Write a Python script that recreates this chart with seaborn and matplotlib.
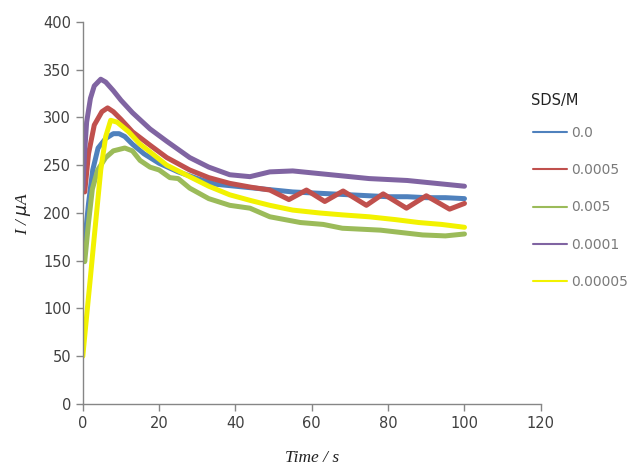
import pandas as pd
import matplotlib.pyplot as plt
import seaborn as sns

# --- data (time / s, current / uA) ---
t_blank = [0, 0.5, 1.5, 2.6, 4, 6, 8, 9.5, 11, 13, 16, 20, 25, 30, 35, 40, 45, 50,
           55, 60, 65, 70, 75, 80, 85, 90, 95, 100]
i_blank = [182, 170, 210, 245, 268, 278, 283, 283, 280, 272, 262, 252, 243, 236, 230,
           228, 226, 224, 222, 221, 220, 219, 218, 217, 217, 216, 216, 215]

t_5e4 = [0, 0.5, 1.5, 3, 5, 6.5, 8, 10, 13, 17.6, 22, 28, 33, 38.5, 44, 49, 54,
         58.6, 63.4, 68.2, 74.3, 78.7, 84.8, 90, 96.1, 100]
i_5e4 = [230, 222, 262, 292, 306, 310, 306, 298, 285, 271, 258, 245, 237, 231, 227,
         224, 214, 224, 212, 223, 208, 220, 205, 218, 204, 210]

t_5e3 = [0, 0.5, 1.5, 2.5, 3.9, 6, 8, 11, 13, 15, 17.6, 20, 22.8, 25, 28, 33, 38.5,
         43.8, 49, 57, 63, 68, 78, 89, 95, 100]
i_5e3 = [165, 149, 190, 225, 245, 258, 265, 268, 265, 255, 248, 245, 237, 236, 226,
         215, 208, 205, 196, 190, 188, 184, 182, 177, 176, 178]

t_1e4 = [0, 0.5, 1, 2, 3, 4.7, 6, 8, 10, 13, 17.6, 22, 28, 33, 38.5, 43.8, 49, 55,
         60, 65, 70, 75, 80, 85, 90, 95, 100]
i_1e4 = [225, 265, 295, 320, 333, 340, 337, 328, 318, 305, 288, 275, 258, 248, 240,
         238, 243, 244, 242, 240, 238, 236, 235, 234, 232, 230, 228]

t_5e5 = [0, 1, 2, 3, 4.7, 6, 7.3, 9, 12, 15, 17.6, 22, 28, 33, 38.5, 44, 49, 55, 62,
         68, 75, 82, 88, 94, 100]
i_5e5 = [50, 92, 133, 175, 245, 280, 297, 295, 285, 272, 264, 250, 238, 228, 219,
         213, 208, 203, 200, 198, 196, 193, 190, 188, 185]

labels = ['0.0', '0.0005', '0.005', '0.0001', '0.00005']
colors = ['#4F81BD', '#C0504D', '#9BBB59', '#8064A2', '#F2F200']

series = [(t_blank, i_blank), (t_5e4, i_5e4), (t_5e3, i_5e3),
          (t_1e4, i_1e4), (t_5e5, i_5e5)]
df = pd.concat([pd.DataFrame({'Time': t, 'I': i, 'SDS': lab})
                for (t, i), lab in zip(series, labels)], ignore_index=True)

sns.set_style('white')
fig = plt.figure(figsize=(6.37, 4.66), dpi=100)
ax = fig.add_axes([0.130, 0.133, 0.719, 0.820])

sns.lineplot(data=df, x='Time', y='I', hue='SDS', hue_order=labels,
             palette=colors, estimator=None, sort=False, linewidth=3.6, ax=ax)

ax.set_xlim(0, 120)
ax.set_ylim(0, 400)
ax.set_xticks(range(0, 121, 20))
ax.set_yticks(range(0, 401, 50))
ax.tick_params(axis='both', direction='out', length=5, width=1, color='#868686',
               labelsize=10.5, labelcolor='#404040', left=True, bottom=True)
for s in ['top', 'right']:
    ax.spines[s].set_visible(False)
for s in ['left', 'bottom']:
    ax.spines[s].set_color('#868686')
    ax.spines[s].set_linewidth(1)

ax.set_xlabel('Time / s', family='Liberation Serif', style='italic', fontsize=12.5,
              color='#222222', labelpad=14)
ax.set_ylabel(r'I / $\mu$A', family='Liberation Serif', style='italic', fontsize=12.5,
              color='#222222', labelpad=7)

handles, labs = ax.get_legend_handles_labels()
ax.get_legend().remove()
fig.text(531 / 637, 1 - 100 / 466, 'SDS/M', fontsize=10.5, color='#222222',
         ha='left', va='center')
leg = fig.legend(handles, labs, loc='upper left',
                 bbox_to_anchor=(0.8166, 0.757), frameon=False, fontsize=10,
                 labelspacing=1.68, handlelength=2.5, handletextpad=0.3)
for h in leg.legend_handles:
    h.set_linewidth(1.5)
for txt in leg.get_texts():
    txt.set_color('#7a7a7a')

fig.savefig('out.png', dpi=100)
